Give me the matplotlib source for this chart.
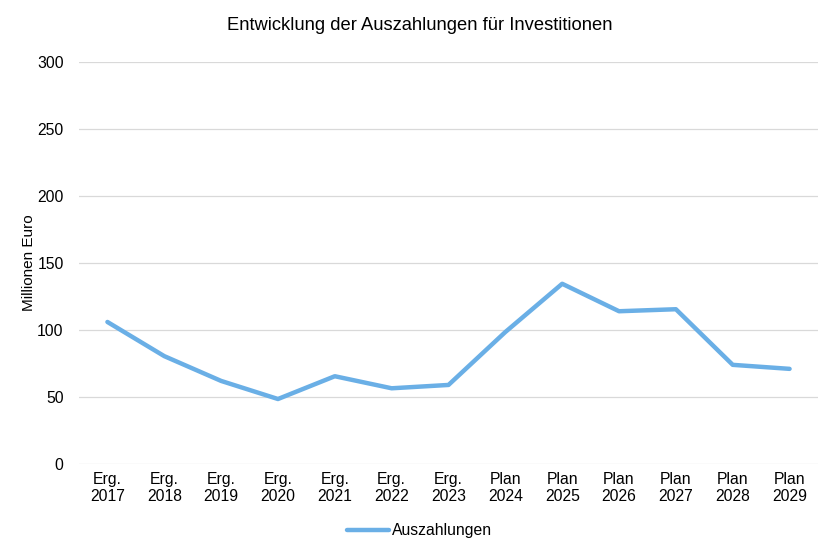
import matplotlib.pyplot as plt

plt.rcParams['font.family'] = ['Liberation Sans', 'DejaVu Sans']

# Daten
jahre = ['Erg.\n2017', 'Erg.\n2018', 'Erg.\n2019', 'Erg.\n2020', 'Erg.\n2021', 'Erg.\n2022',
         'Erg.\n2023', 'Plan\n2024', 'Plan\n2025', 'Plan\n2026', 'Plan\n2027', 'Plan\n2028',
         'Plan\n2029']
auszahlungen = [106, 80.5, 62, 48.5, 65.5, 56.5, 59, 98.5, 134.5, 114, 115.5, 74, 71]
y_ticks = [0, 50, 100, 150, 200, 250, 300]

fig = plt.figure(figsize=(8.39, 5.58), dpi=100)
ax = fig.add_axes([79 / 839, 1 - 464 / 558, 739 / 839, 402 / 558])

x = range(len(jahre))
ax.plot(x, auszahlungen, color='#6AAFE6', linewidth=3.2, label='Auszahlungen',
        solid_capstyle='round', solid_joinstyle='round')

ax.set_xlim(-0.5, len(jahre) - 0.5)
ax.set_ylim(0, 300)
ax.set_yticks(y_ticks)
ax.set_xticks(list(x))
ax.set_xticklabels(jahre, fontsize=11.3, linespacing=1.15)
ax.tick_params(axis='y', labelsize=11.3, length=0, pad=11)
ax.tick_params(axis='x', length=0, pad=6)

ax.grid(axis='y', color='#D9D9D9', linewidth=0.9)
ax.set_axisbelow(True)
for s in ax.spines.values():
    s.set_visible(False)

ax.set_ylabel('Millionen Euro', fontsize=11, labelpad=0.5)
fig.suptitle('Entwicklung der Auszahlungen für Investitionen', fontsize=13.2, y=0.97)

fig.legend(loc='center', bbox_to_anchor=(0.5, 1 - 531 / 558), frameon=False,
           fontsize=11.3, handlelength=2.7, handletextpad=0.2)

fig.savefig('out.png', dpi=100)
